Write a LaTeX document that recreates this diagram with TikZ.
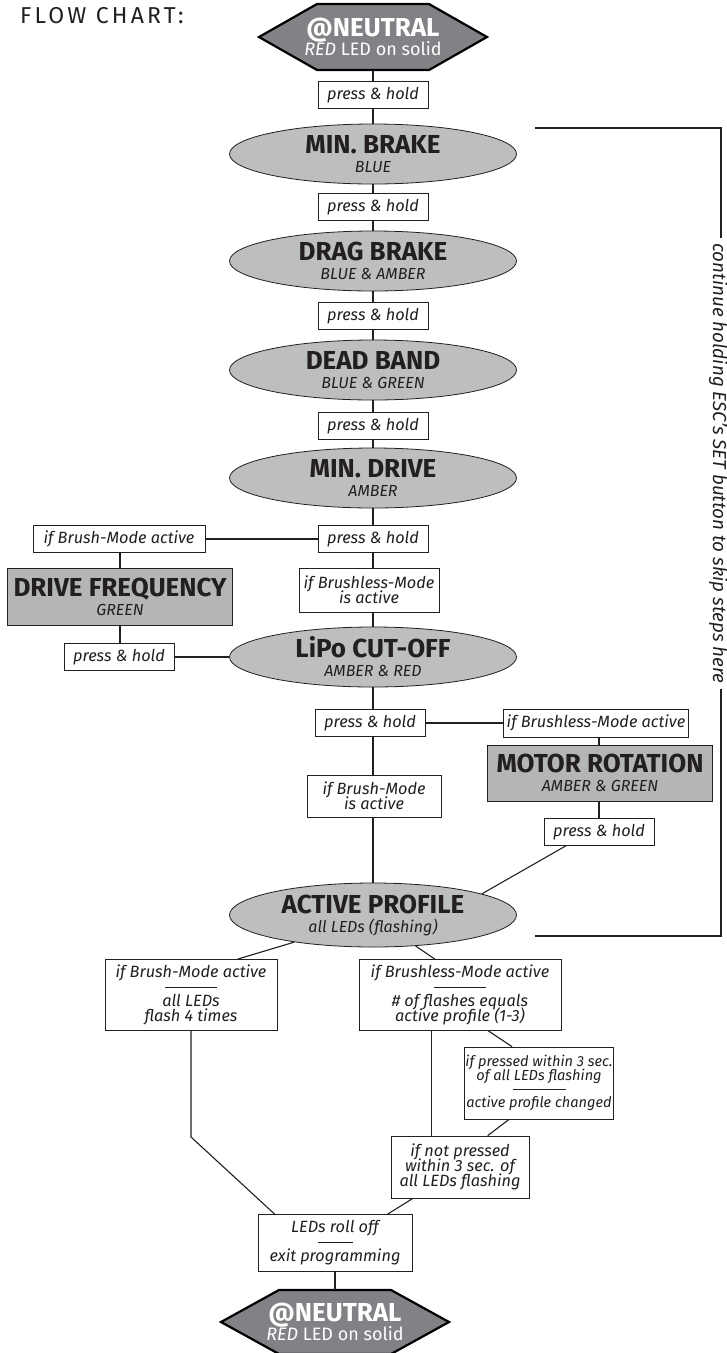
\documentclass[tikz,border=0pt]{standalone}
\usepackage{fontspec}
\setmainfont{Fira Sans}
\usetikzlibrary{shapes.geometric,calc}
\definecolor{ink}{HTML}{231F20}
\definecolor{ovalgray}{HTML}{BCBEC0}
\definecolor{rectgray}{HTML}{B3B5B7}
\definecolor{hexgray}{HTML}{808285}
\newcommand\boxtitle[1]{{\fontsize{26}{26}\selectfont\bfseries #1}}
\newcommand\seprule[1]{\rule[5pt]{#1}{0.7pt}}
\begin{document}
\begin{tikzpicture}[x=1pt,y=-1pt,
  conn/.style={draw=ink, line width=1.1pt},
  lbl/.style={rectangle, draw=ink, line width=0.8pt, fill=white, inner sep=1pt, align=center, text=ink,
    font={\fontsize{16.3}{15}\selectfont\itshape\lineskiplimit=-6pt}},
  ph/.style={lbl, minimum width=110pt, minimum height=27pt},
  oval/.style={ellipse, draw=ink, line width=0.8pt, fill=ovalgray, minimum width=287pt, minimum height=60pt,
    inner sep=0pt, align=center, text=ink, font={\fontsize{16}{19}\selectfont\lineskiplimit=-6pt}},
  grect/.style={rectangle, draw=ink, line width=0.9pt, fill=rectgray, inner sep=0pt, align=center, text=ink,
    font={\fontsize{16}{19}\selectfont\lineskiplimit=-6pt}},
  hexshape/.style={draw=black, fill=hexgray, line width=2.2pt, line join=miter},
  hexnode/.style={rectangle, minimum width=228pt, minimum height=66pt, inner sep=0pt, align=center, text=white,
    font={\fontsize{18}{21}\selectfont\lineskiplimit=-6pt}}]
\useasboundingbox (0,0) rectangle (727,1353);
\fill[white] (0,0) rectangle (727,1353);

% title
\node[anchor=west, text=ink, font={\fontsize{23}{23}\selectfont\addfontfeature{LetterSpace=14}}, inner sep=0pt] (title) at (20,16) {FLOW CHART:};

% top hexagon
\coordinate (ntc) at (373,37);
\path[hexshape] (ntc) ++(-114,0) -- ++(58,-33) -- ++(112,0) -- ++(58,33) -- ++(-58,33) -- ++(-112,0) -- cycle;
\node[hexnode] (nt) at (ntc) {\boxtitle{@NEUTRAL}\\[-2pt]{\itshape RED} LED on solid};

% main column
\node[ph] (ph1) at (373,95) {press \& hold};
\node[oval] (mb) at (373,154) {\boxtitle{MIN. BRAKE}\\{\itshape BLUE}};
\node[ph] (ph2) at (373,207) {press \& hold};
\node[oval] (db) at (373,261) {\boxtitle{DRAG BRAKE}\\{\itshape BLUE \& AMBER}};
\node[ph] (ph3) at (373,316) {press \& hold};
\node[oval] (dband) at (373,370) {\boxtitle{DEAD BAND}\\{\itshape BLUE \& GREEN}};
\node[ph] (ph4) at (373,426) {press \& hold};
\node[oval] (md) at (373,478) {\boxtitle{MIN. DRIVE}\\{\itshape AMBER}};
\node[ph] (ph5) at (373,539) {press \& hold};
\node[lbl, minimum width=140pt, minimum height=44pt] (ifbl1) at (369,590) {if Brushless-Mode\\is active};
\node[oval] (lipo) at (373,657) {\boxtitle{LiPo CUT-OFF}\\{\itshape AMBER \& RED}};

% left branch
\node[lbl, minimum width=172pt, minimum height=27pt] (ifbr1) at (119,539) {if Brush-Mode active};
\node[grect, minimum width=225pt, minimum height=57pt] (df) at (120,597) {\boxtitle{DRIVE FREQUENCY}\\{\itshape GREEN}};
\node[ph] (ph6) at (119,657) {press \& hold};

% below LiPo
\node[ph] (ph7) at (370,723) {press \& hold};
\node[lbl, minimum width=185pt, minimum height=28pt] (ifbl2) at (596,723) {if Brushless-Mode active};
\node[grect, minimum width=225pt, minimum height=56pt] (mr) at (600,773) {\boxtitle{MOTOR ROTATION}\\{\itshape AMBER \& GREEN}};
\node[ph] (ph8) at (599,832) {press \& hold};
\node[lbl, minimum width=134pt, minimum height=42pt] (ifbr2) at (374,796) {if Brush-Mode\\is active};

\node[oval, minimum height=64pt] (ap) at (373,915) {\boxtitle{ACTIVE PROFILE}\\{\itshape all LEDs (flashing)}};

% lower boxes
\node[lbl, minimum width=172pt, minimum height=71pt] (boxa) at (191,995)
  {if Brush-Mode active\\\seprule{52pt}\\[-1pt]all LEDs\\flash 4 times};
\node[lbl, minimum width=202pt, minimum height=71pt] (boxb) at (460,995)
  {if Brushless-Mode active\\\seprule{52pt}\\[-1pt]\# of flashes equals\\active profile (1-3)};
\node[lbl, minimum width=142pt, minimum height=72pt, font={\fontsize{14.6}{14}\selectfont\itshape\lineskiplimit=-6pt}] (ifp) at (539,1083)
  {if pressed within 3 sec.\\of all LEDs flashing\\\seprule{53pt}\\[-1pt]active profile changed};
\node[lbl, minimum width=138pt, minimum height=62pt] (ifnp) at (460,1167)
  {if not pressed\\within 3 sec. of\\all LEDs flashing};
\node[lbl, minimum width=154pt, minimum height=57pt] (exit) at (335,1243)
  {LEDs roll off\\\seprule{35pt}\\[-1pt]exit programming};

% bottom hexagon
\coordinate (nbc) at (335,1322);
\path[hexshape] (nbc) ++(-114,0) -- ++(58,-32) -- ++(112,0) -- ++(58,32) -- ++(-58,32) -- ++(-112,0) -- cycle;
\node[hexnode, minimum height=64pt] (nb) at (nbc) {\boxtitle{@NEUTRAL}\\[-2pt]{\itshape RED} LED on solid};

% skip bracket
\coordinate (btl) at (535,128);
\coordinate (btr) at (721,128);
\coordinate (bbl) at (535,936);
\coordinate (bbr) at (721,936);
\node[rotate=-90, anchor=base west, inner xsep=5pt, inner ysep=0pt, text=ink, font={\fontsize{18.8}{19}\selectfont\itshape}] (skip) at (713,238)
  {continue holding ESC's SET button to skip steps here};

% connectors
\draw[conn] (nt) -- (ph1);
\draw[conn] (ph1) -- (mb);
\draw[conn] (mb) -- (ph2);
\draw[conn] (ph2) -- (db);
\draw[conn] (db) -- (ph3);
\draw[conn] (ph3) -- (dband);
\draw[conn] (dband) -- (ph4);
\draw[conn] (ph4) -- (md);
\draw[conn] (md) -- (ph5);
\draw[conn] (ph5.south) -- (ph5.south |- ifbl1.north);
\draw[conn] (ph5.south |- ifbl1.south) -- (lipo.north);
\draw[conn] (ph5.west) -- (ifbr1.east);
\draw[conn] (ifbr1.south -| df.north) -- (df.north);
\draw[conn] (df.south) -- (df.south |- ph6.north);
\draw[conn] (ph6.east) -- (lipo.west);
\draw[conn] (lipo.south) -- (lipo.south |- ph7.north);
\draw[conn] (ph7.east) -- (ifbl2.west);
\draw[conn] (ifbl2.south -| ph8.north) -- (ph8.north |- mr.north);
\draw[conn] (mr.south -| ph8.north) -- (ph8.north);
\draw[conn] ($(ph8.south west)!0.2!(ph8.south east)$) -- (ap.11);
\draw[conn] (lipo.south |- ph7.south) -- (lipo.south |- ifbr2.north);
\draw[conn] (lipo.south |- ifbr2.south) -- (ap.north);
\draw[conn] (ap.199) -- ($(boxa.north west)!0.77!(boxa.north east)$);
\draw[conn] (ap.-36) -- ($(boxb.north west)!0.376!(boxb.north east)$);
\coordinate (benda) at (191,1137);
\draw[conn] (boxa.south) -- (benda) -- ($(exit.north west)!0.11!(exit.north east)$);
\draw[conn] ($(boxb.south west)!0.36!(boxb.south east)$) coordinate (bdown) -- (bdown |- ifnp.north);
\draw[conn] ($(boxb.south west)!0.64!(boxb.south east)$) -- ($(ifp.north west)!0.32!(ifp.north east)$);
\draw[conn] ($(ifp.south west)!0.30!(ifp.south east)$) -- ($(ifnp.north west)!0.70!(ifnp.north east)$);
\draw[conn] ($(ifnp.south west)!0.16!(ifnp.south east)$) -- ($(exit.north west)!0.84!(exit.north east)$);
\draw[conn] (exit.south) -- (nb.north);
\draw[conn] (btl) -- (btr) -- (btr |- skip.west);
\draw[conn] (bbr |- skip.east) -- (bbr) -- (bbl);
\end{tikzpicture}
\end{document}
